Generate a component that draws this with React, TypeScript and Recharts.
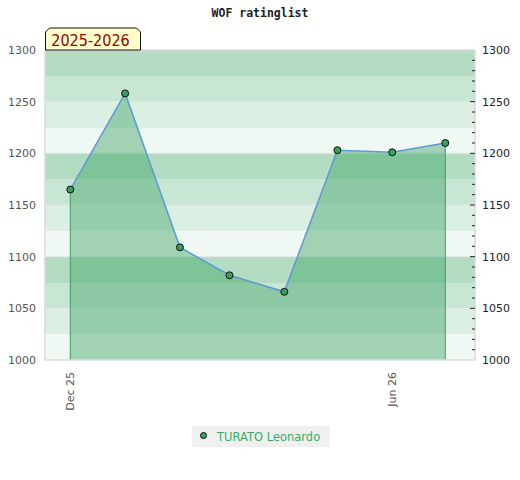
import React from 'react';
import {
  ComposedChart,
  Area,
  Line,
  XAxis,
  YAxis,
  CartesianGrid,
  ReferenceLine,
} from 'recharts';

// ---- data ----
const dates = ['2025-12-01', '2026-01-01', '2026-02-01', '2026-03-01', '2026-04-01', '2026-05-01', '2026-06-01', '2026-07-01'];
const ratings = [1165, 1258, 1109, 1082, 1066, 1203, 1201, 1210];
const tickDates = ['2025-12-01', '2026-06-01'];
const tickLabels = ['Dec 25', 'Jun 26'];
const yTicks = [1000, 1050, 1100, 1150, 1200, 1250, 1300];
const seriesName = 'TURATO Leonardo';
const chartTitle = 'WOF ratinglist';
const seasonLabel = '2025-2026';

const Y_MIN = 1000;
const Y_MAX = 1300;
const BAND = 25;
const MINOR = 10;
const DAY = 86400000;

const bandValues: number[] = [];
for (let v = Y_MIN; v <= Y_MAX; v += BAND) bandValues.push(v);
const bandColors = ['#b3dcc2', '#c8e6d4', '#dcefe3', '#f0f8f3']; // from the top
const minorTicks: number[] = [];
for (let v = Y_MIN; v <= Y_MAX; v += MINOR) minorTicks.push(v);

const toTime = (d: string) => Date.parse(d + 'T00:00:00Z');
const data = dates.map((d, i) => ({ t: toTime(d), rating: ratings[i] }));
const xTicks = tickDates.map(toTime);
const firstT = data[0].t;
const lastT = data[data.length - 1].t;
const lastRating = ratings[ratings.length - 1];

const GREEN = '#3a9e5c';
const FILL = '#41a468';
const LINE = '#5b9bd5';
const BORDER = '#dadada';

const XTick = (props: any) => {
  const { x, y, payload } = props;
  const label = tickLabels[xTicks.indexOf(payload.value)];
  return (
    <text
      x={x + 4}
      y={y + 12}
      transform={`rotate(-90, ${x + 4}, ${y + 12})`}
      textAnchor="end"
      fontSize={11}
      fontFamily="DejaVu Sans"
      fill="#555"
    >
      {label}
    </text>
  );
};

const LeftTick = (props: any) => {
  const { x, y, payload } = props;
  return (
    <text x={x} y={y} dy="0.355em" textAnchor="end" fontSize={11} fontFamily="DejaVu Sans" fill="#555">
      {payload.value}
    </text>
  );
};

const RightTick = (props: any) => {
  const { x, y, payload } = props;
  const v = payload.value as number;
  const major = v % 50 === 0;
  return (
    <g>
      {v > Y_MIN && v < Y_MAX && (
        <line x1={x - (major ? 5 : 3)} x2={x} y1={y} y2={y} stroke="#222" strokeWidth={1} />
      )}
      {major && (
        <text x={x + 7} y={y} dy="0.355em" textAnchor="start" fontSize={11} fontFamily="DejaVu Sans" fill="#222">
          {v}
        </text>
      )}
    </g>
  );
};

const Dot = (props: any) => {
  const { cx, cy } = props;
  if (cx == null || cy == null) return null;
  return <circle cx={cx} cy={cy} r={3.5} fill={GREEN} stroke="#111" strokeWidth={1} />;
};

export default function App() {
  return (
    <div style={{ position: 'absolute', left: 0, top: 0, width: 520, height: 480, background: '#fff' }}>
      <ComposedChart
        width={520}
        height={480}
        data={data}
        margin={{ top: 50, right: 0, bottom: 60, left: 0 }}
      >
        <CartesianGrid
          yAxisId="left"
          vertical={false}
          horizontal={true}
          horizontalValues={bandValues}
          horizontalFill={bandColors}
          fillOpacity={1}
          stroke="none"
          strokeOpacity={0}
        />
        <CartesianGrid
          yAxisId="left"
          vertical={false}
          horizontal={true}
          horizontalValues={yTicks.slice(1, -1)}
          stroke="#e3e8e5"
          strokeWidth={1}
        />
        <XAxis
          dataKey="t"
          type="number"
          scale="time"
          domain={[firstT - 14.3 * DAY, lastT + 16.8 * DAY]}
          ticks={xTicks}
          interval={0}
          tick={<XTick />}
          tickLine={false}
          tickSize={0}
          tickMargin={0}
          axisLine={{ stroke: BORDER, strokeWidth: 1.5 }}
          height={60}
          allowDataOverflow
        />
        <YAxis
          yAxisId="left"
          orientation="left"
          domain={[Y_MIN, Y_MAX]}
          ticks={yTicks}
          interval={0}
          width={45}
          tick={<LeftTick />}
          tickLine={false}
          tickSize={0}
          tickMargin={9}
          axisLine={{ stroke: BORDER, strokeWidth: 1.5 }}
          allowDataOverflow
        />
        <YAxis
          yAxisId="right"
          orientation="right"
          domain={[Y_MIN, Y_MAX]}
          ticks={minorTicks}
          interval={0}
          width={45}
          tick={<RightTick />}
          tickLine={false}
          tickSize={0}
          tickMargin={0}
          axisLine={{ stroke: BORDER, strokeWidth: 1.5 }}
          allowDataOverflow
        />
        <ReferenceLine yAxisId="left" y={Y_MAX} stroke={BORDER} strokeWidth={1.5} />
        <Area
          yAxisId="left"
          type="linear"
          dataKey="rating"
          fill={FILL}
          fillOpacity={0.45}
          stroke="none"
          baseValue={Y_MIN}
          isAnimationActive={false}
          dot={false}
          activeDot={false}
        />
        <ReferenceLine
          yAxisId="left"
          segment={[{ x: firstT, y: Y_MIN }, { x: firstT, y: ratings[0] }]}
          stroke={GREEN}
          strokeWidth={1}
        />
        <ReferenceLine
          yAxisId="left"
          segment={[{ x: lastT, y: Y_MIN }, { x: lastT, y: lastRating }]}
          stroke={GREEN}
          strokeWidth={1}
        />
        <Line
          yAxisId="left"
          type="linear"
          dataKey="rating"
          stroke={LINE}
          strokeWidth={1.5}
          dot={<Dot />}
          activeDot={false}
          isAnimationActive={false}
        />
      </ComposedChart>

      {/* title */}
      <div
        style={{
          position: 'absolute',
          left: 0,
          top: 6,
          width: 520,
          textAlign: 'center',
          fontFamily: 'DejaVu Sans Mono',
          fontWeight: 'bold',
          fontSize: 11.5,
          color: '#222',
          lineHeight: '14px',
        }}
      >
        {chartTitle}
      </div>

      {/* season label */}
      <svg style={{ position: 'absolute', left: 0, top: 0 }} width={160} height={60}>
        <polygon
          points="45.5,50 45.5,32 49.5,28 136.5,28 140.5,32 140.5,50"
          fill="#ffffcc"
          stroke="#111"
          strokeWidth={1}
        />
        <text
          x={90.5}
          y={45.8}
          textAnchor="middle"
          fontFamily="'DejaVu Sans Condensed', 'DejaVu Sans'"
          style={{ fontStretch: 'condensed' }}
          fontSize={16}
          fill="#990000"
        >
          {seasonLabel}
        </text>
      </svg>

      {/* legend */}
      <div
        style={{
          position: 'absolute',
          left: 192,
          top: 426,
          width: 138,
          height: 21,
          background: '#f0f0f0',
          display: 'flex',
          alignItems: 'center',
        }}
      >
        <svg width={24} height={21} style={{ flex: 'none' }}>
          <circle cx={11.5} cy={9.5} r={3} fill={GREEN} stroke="#111" strokeWidth={1} />
        </svg>
        <span style={{ fontFamily: 'DejaVu Sans', fontSize: 11.5, color: '#3aaa64', marginLeft: 1 }}>{seriesName}</span>
      </div>
    </div>
  );
}
